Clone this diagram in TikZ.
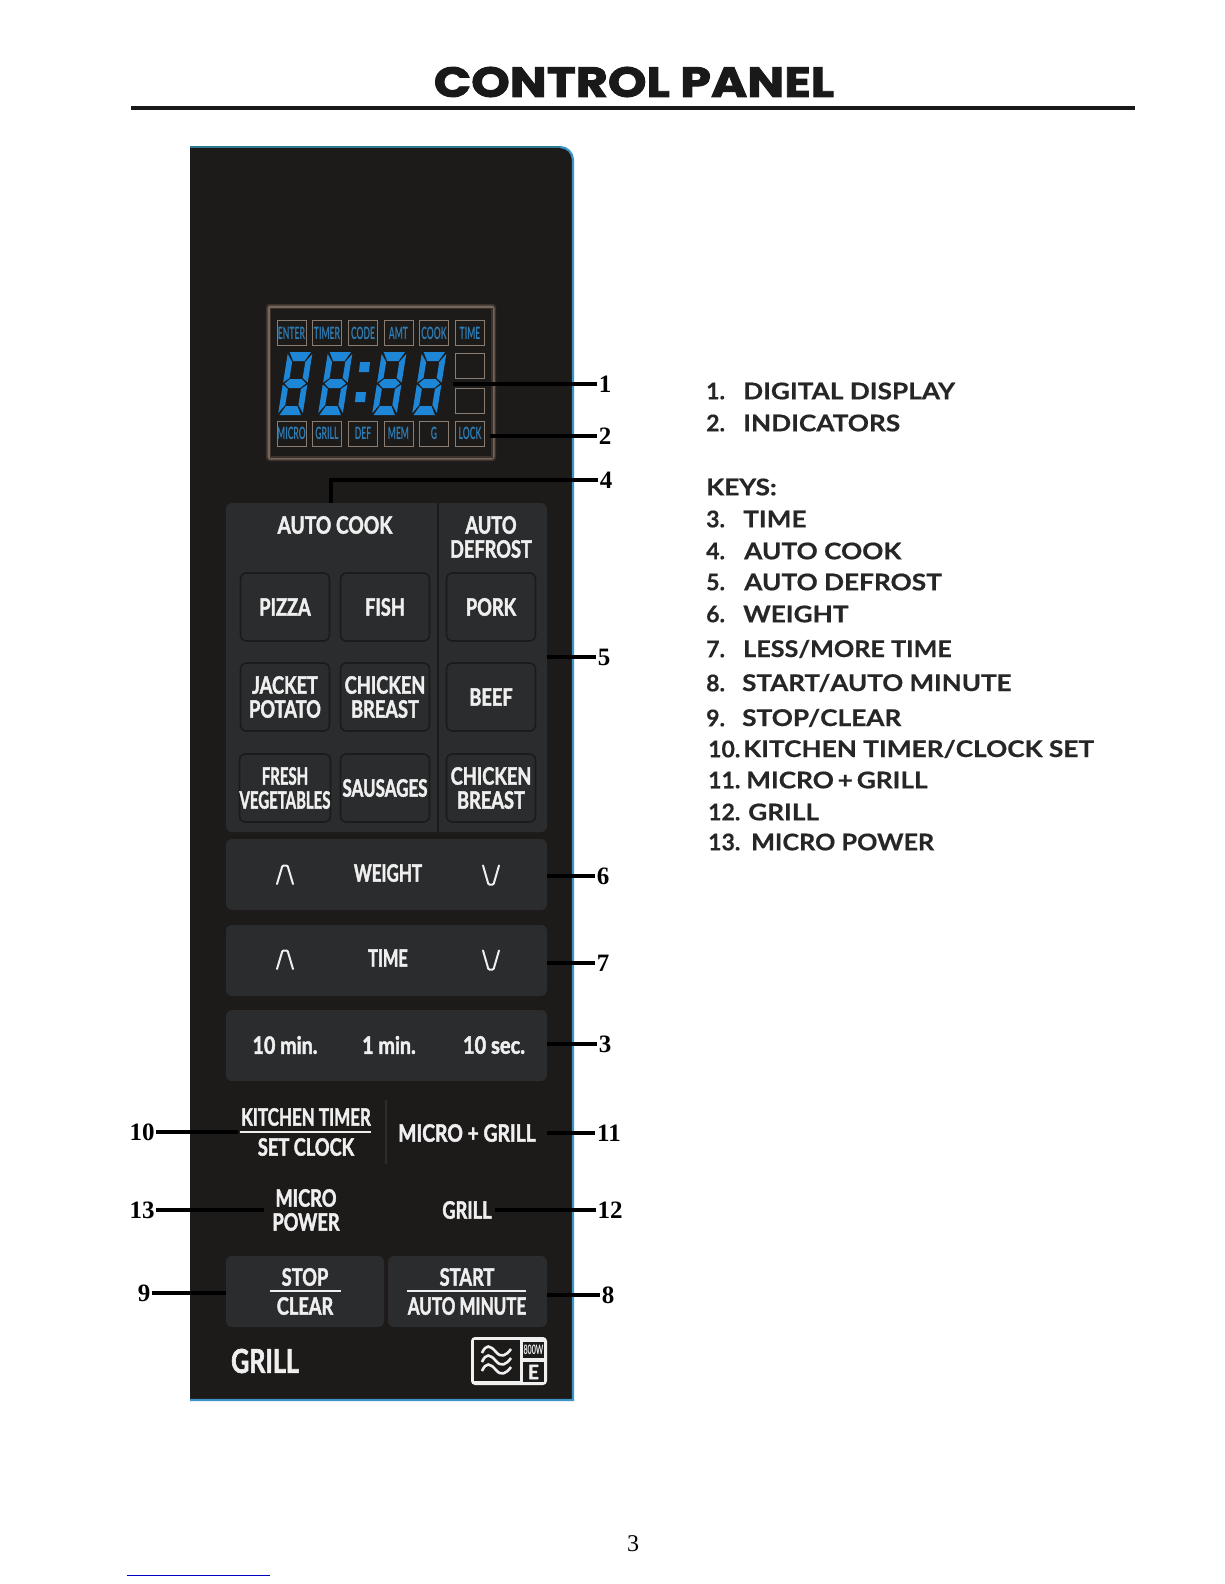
\documentclass[tikz,border=0pt]{standalone}
\usepackage{fontspec}
\setmainfont{Lato}
\newfontfamily\titlefont[FakeStretch=1.17,FakeBold=2.2]{Poppins}
\newfontfamily\listfont[FakeStretch=1.14,BoldFeatures={FakeBold=.5}]{Lato}
\newfontfamily\listnumfont[BoldFeatures={FakeBold=.4}]{Lato}
\newfontfamily\panelfont[FakeStretch=.76,BoldFeatures={FakeBold=1.8}]{Lato}
\newfontfamily\lcdfont[FakeStretch=.55]{Lato}
\newfontfamily\numfont{Liberation Serif}
\definecolor{panelbg}{HTML}{1D1A1A}
\definecolor{groupbg}{HTML}{2B2C2D}
\definecolor{keyline}{HTML}{1C1B1B}
\definecolor{edgeblue}{HTML}{3C93C6}
\definecolor{edgeteal}{HTML}{2A7A94}
\definecolor{lcdblue}{HTML}{2E7DB5}
\definecolor{segblue}{HTML}{1E86D6}
\definecolor{framedark}{HTML}{3B322D}
\definecolor{framebrown}{HTML}{75655A}
\definecolor{lcdedge}{HTML}{8A7C70}
\definecolor{paneltext}{HTML}{EFEFEF}
\newcommand{\sx}[2]{\scalebox{#1}[1]{#2}}
\tikzset{
  x=1pt,y=-1pt,
  groupbox/.style={fill=groupbg,rounded corners=6pt,draw=none},
  keybox/.style={draw=keyline,line width=1.6pt,fill=groupbg,rounded corners=6pt,text=paneltext,minimum width=89pt,minimum height=68pt,inner sep=0pt,align=center,font=\panelfont\bfseries\fontsize{24}{24}\selectfont},
  ptext/.style={text=paneltext,inner sep=0pt,align=center,font=\panelfont\bfseries\fontsize{24}{24}\selectfont},
  lcdbox/.style={draw=lcdedge,line width=.9pt,minimum width=29pt,minimum height=25pt,inner sep=0pt,text=lcdblue,font=\lcdfont\bfseries\fontsize{17}{17}\selectfont},
  lead/.style={line width=3.4pt,black},
  callnum/.style={inner sep=1.5pt,font=\numfont\bfseries\fontsize{25}{25}\selectfont},
  listitem/.style={anchor=west,inner sep=0pt,text=black!85,font=\listfont\bfseries\fontsize{23}{23}\selectfont},
  listnum/.style={anchor=west,inner sep=0pt,text=black!85,font=\listnumfont\bfseries\fontsize{23}{23}\selectfont},
  seg/.style={fill=segblue,draw=none},
  whiterule/.style={line width=1.8pt,paneltext},
  chev/.style={paneltext,line width=2pt,line cap=round,rounded corners=1pt},
}
\newcommand{\sevenseg}[1]{%
  \begin{scope}[shift={(#1,352)},xslant=.16,xscale=.82]
    \fill[seg] (2,0)--(28,0)--(22,9)--(8,9)--cycle;
    \fill[seg] (2,31.5)--(8,27)--(22,27)--(28,31.5)--(22,36)--(8,36)--cycle;
    \fill[seg] (8,54)--(22,54)--(28,63)--(2,63)--cycle;
    \fill[seg] (0,2)--(7,10)--(7,26)--(0,30.5)--cycle;
    \fill[seg] (0,32.5)--(7,37)--(7,53)--(0,61)--cycle;
    \fill[seg] (30,2)--(23,10)--(23,26)--(30,30.5)--cycle;
    \fill[seg] (30,32.5)--(23,37)--(23,53)--(30,61)--cycle;
  \end{scope}}
\begin{document}
\begin{tikzpicture}
\useasboundingbox (0,0) rectangle (1224,1584);
\fill[white] (0,0) rectangle (1224,1584);
% title
\node[inner sep=0pt,font=\titlefont\bfseries\fontsize{42}{42}\selectfont,text=black!90] (title) at (634,82) {CONTROL PANEL};
\fill[black!90] (131,106.5) rectangle (1135,110);
% panel
\fill[panelbg] (190,1400) -- (573,1400) -- (573,160) arc[start angle=0,end angle=-90,radius=13] -- (190,147) -- cycle;
\draw[edgeteal,line width=1.6pt] (190,147) -- (560,147);
\draw[edgeblue,line width=2.2pt] (560,147) arc[start angle=-90,end angle=0,radius=13] -- (573,1400) -- (190,1400);
% display
\fill[framedark,rounded corners=3pt] (266,304) rectangle (496,461);
\fill[framebrown,rounded corners=3pt] (267.5,305.5) rectangle (494.5,459.5);
\fill[framedark] (269.5,307.5) rectangle (492.5,457.5);
\fill[panelbg] (271,309) rectangle (491,456);
\foreach \nm/\tx/\lab in {a1/291.5/ENTER,a2/327/TIMER,a3/363/CODE,a4/398.5/AMT,a5/434/COOK,a6/470/TIME}
  \node[lcdbox] (\nm) at (\tx,333) {\sx{.92}{\lab}};
\foreach \nm/\tx/\lab in {b1/291.5/MICRO,b2/327/GRILL,b3/363/DEF,b4/398.5/MEM,b5/434/G,b6/470/LOCK}
  \node[lcdbox] (\nm) at (\tx,433.5) {\sx{.92}{\lab}};
\node[lcdbox] (sq1) at (470,366) {};
\node[lcdbox] (sq2) at (470,400.5) {};
\sevenseg{288}\sevenseg{328}\sevenseg{382}\sevenseg{422}
\fill[seg] (360,362) -- (370,362) -- (369,372) -- (359,372) -- cycle;
\fill[seg] (356,392) -- (366,392) -- (365,402) -- (355,402) -- cycle;
% key groups
\fill[groupbox] (226,503) rectangle (547,832);
\draw[keyline,line width=2pt] (438,503) -- (438,832);
\node[ptext] (autocook) at (335,525) {\sx{1.05}{AUTO COOK}};
\node[ptext] (autodef) at (491,537) {AUTO\\DEFROST};
\node[keybox] (k1) at (285,607) {PIZZA};
\node[keybox] (k2) at (385,607) {FISH};
\node[keybox] (k3) at (491,607) {PORK};
\node[keybox] (k4) at (285,697) {JACKET\\POTATO};
\node[keybox] (k5) at (385,697) {CHICKEN\\BREAST};
\node[keybox] (k6) at (491,697) {BEEF};
\node[keybox] (k7) at (285,788) {\sx{.82}{FRESH}\\\sx{.82}{VEGETABLES}};
\node[keybox] (k8) at (385,788) {\sx{.93}{SAUSAGES}};
\node[keybox] (k9) at (491,788) {CHICKEN\\BREAST};
% bars
\fill[groupbox] (226,839) rectangle (547,910);
\fill[groupbox] (226,925) rectangle (547,996);
\fill[groupbox] (226,1010) rectangle (547,1081);
\draw[chev] (277,884) -- (282.5,865.5) -- (287.5,865.5) -- (293,884);
\node[ptext] (wt) at (388,873) {\sx{.93}{WEIGHT}};
\draw[chev] (483,865.5) -- (488.5,884.5) -- (493.5,884.5) -- (499,865.5);
\draw[chev] (277,969) -- (282.5,950.5) -- (287.5,950.5) -- (293,969);
\node[ptext] (tt) at (388,958) {\sx{.9}{TIME}};
\draw[chev] (483,950.5) -- (488.5,969.5) -- (493.5,969.5) -- (499,950.5);
\node[ptext] (m10) at (285,1045) {\sx{1.08}{10 min.}};
\node[ptext] (m1) at (389,1045) {\sx{1.08}{1 min.}};
\node[ptext] (s10) at (494,1045) {\sx{1.1}{10 sec.}};
% lower labels
\node[ptext] (kt) at (306,1117) {\sx{.93}{KITCHEN TIMER}};
\draw[whiterule] (240,1132) -- (371,1132);
\node[ptext] (sc) at (306,1147) {SET CLOCK};
\draw[groupbg,line width=2pt] (386,1100) -- (386,1164);
\node[ptext] (mg) at (467,1133) {\sx{1.06}{MICRO + GRILL}};
\node[ptext] (mp) at (306,1210) {MICRO\\POWER};
\node[ptext] (gr) at (467,1210) {GRILL};
% stop / start
\fill[groupbox] (226,1256) rectangle (384,1327);
\fill[groupbox] (388,1256) rectangle (547,1327);
\node[ptext] (stop) at (305,1277) {STOP};
\draw[whiterule] (270,1291) -- (341,1291);
\node[ptext] (clear) at (305,1306) {CLEAR};
\node[ptext] (start) at (467,1277) {START};
\draw[whiterule] (407,1291) -- (526,1291);
\node[ptext] (amin) at (467,1306) {\sx{.93}{AUTO MINUTE}};
\node[ptext,font=\panelfont\bfseries\fontsize{33}{33}\selectfont] (biggrill) at (265,1361) {GRILL};
% logo
\fill[paneltext,rounded corners=4pt] (471,1337) rectangle (547,1385);
\fill[panelbg] (474,1340) rectangle (520,1381);
\fill[panelbg] (523,1342) rectangle (544,1358);
\fill[panelbg] (523,1362) rectangle (544,1382);
\node[inner sep=0pt,text=paneltext,font=\lcdfont\bfseries\fontsize{13}{13}\selectfont] (w800) at (533.5,1350) {800W};
\node[inner sep=0pt,text=paneltext,font=\panelfont\bfseries\fontsize{20}{20}\selectfont] (eclass) at (533.5,1372) {\sx{1.25}{E}};
\foreach \yy in {1346,1355,1364}
  \draw[paneltext,line width=2.6pt] (482,\yy+7) .. controls (486,\yy-2) and (490,\yy-1) .. (496,\yy+6) .. controls (501,\yy+12) and (506,\yy+10) .. (511,\yy+3);
% callouts
\node[callnum] (n1) at (605,384) {1};
\node[callnum] (n2) at (605,436) {2};
\node[callnum] (n4) at (606,480) {4};
\node[callnum] (n5) at (604,657) {5};
\node[callnum] (n6) at (603,876) {6};
\node[callnum] (n7) at (603,963) {7};
\node[callnum] (n3) at (605,1044) {3};
\node[callnum] (n11) at (609,1133) {11};
\node[callnum] (n12) at (610,1210) {12};
\node[callnum] (n8) at (608,1295) {8};
\node[callnum] (n10) at (142,1132) {10};
\node[callnum] (n13) at (142,1210) {13};
\node[callnum] (n9) at (144,1293) {9};
\coordinate (c1) at (453,384);
\coordinate (c2) at (490,436);
\coordinate (c4) at (331,503);
\coordinate (c4b) at (331,480);
\coordinate (c5) at (547,657);
\coordinate (c6) at (547,876);
\coordinate (c7) at (547,963);
\coordinate (c3) at (547,1044);
\coordinate (c11) at (547,1133);
\coordinate (c12) at (495,1210);
\coordinate (c8) at (547,1295);
\coordinate (c10) at (238,1132);
\coordinate (c13) at (264,1210);
\coordinate (c9) at (226,1293);
\draw[lead] (c1) -- (n1);
\draw[lead] (c2) -- (n2);
\draw[lead] (c4) -- (c4b) -- (n4);
\draw[lead] (c5) -- (n5);
\draw[lead] (c6) -- (n6);
\draw[lead] (c7) -- (n7);
\draw[lead] (c3) -- (n3);
\draw[lead] (c11) -- (n11);
\draw[lead] (c12) -- (n12);
\draw[lead] (c8) -- (n8);
\draw[lead] (c10) -- (n10);
\draw[lead] (c13) -- (n13);
\draw[lead] (c9) -- (n9);
% list
\foreach \nm/\nx/\tx/\yy/\num/\lab in {
 l1/706/743/391/1./DIGITAL DISPLAY,
 l2/706/743/423/2./INDICATORS,
 l3/706/743/519/3./TIME,
 l4/706/744/551/4./AUTO COOK,
 l5/706/744/582/5./AUTO DEFROST,
 l6/706/743/614/6./WEIGHT,
 l7/706/743/649/7./{\sx{.96}{LESS\slash MORE TIME}},
 l8/706/742/683/8./{\sx{.99}{START\slash AUTO MINUTE}},
 l9/706/742/718/9./STOP\slash CLEAR,
 l10/708/743/749/10./KITCHEN TIMER\slash CLOCK SET,
 l11/708/746/780/11./{MICRO\,+\,GRILL},
 l12/708/748/812/12./GRILL,
 l13/708/751/842/13./{\sx{.96}{MICRO POWER}}}{
  \node[listnum] (\nm n) at (\nx,\yy) {\num};
  \node[listitem] (\nm) at (\tx,\yy) {\lab};
}
\node[listitem] (keys) at (706,487) {KEYS:};
% page number
\node[inner sep=0pt,font=\numfont\fontsize{24}{24}\selectfont] (page) at (633,1544) {3};
\draw[blue!75!black,line width=.8pt] (127,1575) -- (270,1575);
\end{tikzpicture}
\end{document}
